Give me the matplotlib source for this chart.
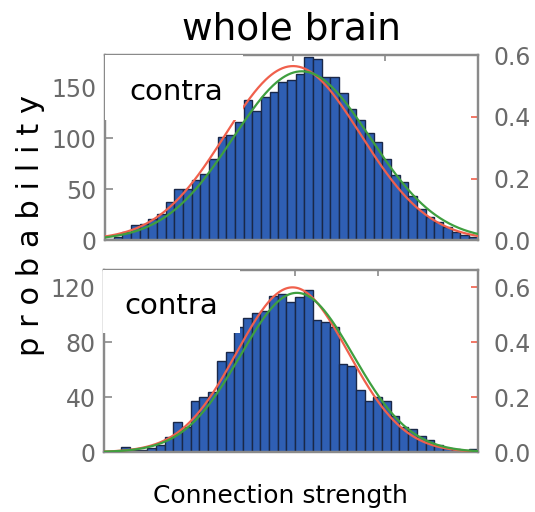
import numpy as np
import matplotlib
matplotlib.use("Agg")
import matplotlib.pyplot as plt

# Histogram counts per bin (43 equal-width bins of connection strength)
top_counts = [1, 3, 8, 15, 16, 21, 26, 37, 50, 50, 59, 65, 80, 101, 103, 116,
              138, 127, 140, 145, 155, 157, 163, 180, 178, 160, 160, 144, 129,
              118, 105, 96, 80, 64, 57, 43, 31, 23, 18, 13, 8, 5, 3]
bottom_counts = [0, 0, 4, 1.5, 1.5, 3, 5, 11, 22, 18, 37, 40, 44, 66, 73, 91,
                 98, 101, 103, 114, 115, 109, 113, 118, 96, 95, 91, 64, 63,
                 45, 37, 40, 37, 26, 18, 17, 12, 9, 5, 3, 2, 1, 2.5]

# Gaussian fit parameters (mean, sigma in bin units; peak on probability axis)
top_red_fit = (21.7, 7.8, 0.565)
top_green_fit = (22.7, 7.9, 0.548)
bottom_red_fit = (21.7, 6.4, 0.600)
bottom_green_fit = (22.2, 6.5, 0.580)

# Axis ticks
top_count_ticks = [0, 50, 100, 150]
bottom_count_ticks = [0, 40, 80, 120]
prob_ticks = [0.0, 0.2, 0.4, 0.6]
prob_labels = ["0.0", "0.2", "0.4", "0.6"]
top_xticks = [10.6, 21.7, 32.3]
bottom_xticks = [4.8, 13.0, 22.0, 31.5]

BAR_FACE = "#2f5fb4"
BAR_EDGE = "#1a2848"
SPINE = "#8a8a8a"
LABEL = "#6a6a6a"
RED = "#f0604c"
GREEN = "#3f9f3f"

fig = plt.figure(figsize=(5.35, 5.12), dpi=100)


def gauss(x, fit):
    mu, sd, peak = fit
    return peak * np.exp(-0.5 * ((x - mu) / sd) ** 2)


def panel(rect, counts, ymax, pmax, cticks, xticks, red_fit, green_fit):
    ax = fig.add_axes(rect)
    n = len(counts)
    centers = np.arange(n) + 0.5
    ax.bar(centers, counts, width=1.0, color=BAR_FACE, edgecolor=BAR_EDGE,
           linewidth=1.0, zorder=2)
    ax.set_xlim(0, n)
    ax.set_ylim(0, ymax)
    ax.set_yticks(cticks)
    ax.set_yticklabels([str(t) for t in cticks], fontsize=17, color=LABEL)
    ax.tick_params(axis="y", direction="in", length=6, width=1.2,
                   color=SPINE, pad=6)
    ax.set_xticks(xticks)
    ax.tick_params(axis="x", direction="in", length=4, width=1.2,
                   color=SPINE, top=True, bottom=False, labelbottom=False)
    for s in ax.spines.values():
        s.set_color(SPINE)
        s.set_linewidth(1.6)

    ax2 = ax.twinx()
    x = np.linspace(0, n, 400)
    ax2.plot(x, gauss(x, red_fit), color=RED, lw=1.6, zorder=3)
    ax2.plot(x, gauss(x, green_fit), color=GREEN, lw=1.6, zorder=3)
    ax2.set_ylim(0, pmax)
    ax2.set_yticks(prob_ticks)
    ax2.set_yticklabels(prob_labels, fontsize=17, color=LABEL)
    ax2.tick_params(axis="y", direction="in", length=5, width=1.2,
                    color=RED, pad=11)
    for s in ax2.spines.values():
        s.set_color(SPINE)
        s.set_linewidth(1.6)
    return ax, ax2


ax_top, ax_top2 = panel([0.196, 0.531, 0.697, 0.361], top_counts, 181.4, 0.597,
                        top_count_ticks, top_xticks, top_red_fit, top_green_fit)
ax_bot, ax_bot2 = panel([0.194, 0.117, 0.699, 0.355], bottom_counts, 132.4, 0.662,
                        bottom_count_ticks, bottom_xticks, bottom_red_fit,
                        bottom_green_fit)

# White label boxes in the upper-left corner of each panel
for (bx, by, bw, bh), (tx, ty) in [((105, 55, 138, 65), (176, 92)),
                                   ((103, 270, 137, 63), (171, 306))]:
    fig.patches.append(plt.Rectangle((bx / 535, 1 - (by + bh) / 512),
                                     bw / 535, bh / 512, transform=fig.transFigure,
                                     facecolor="white", edgecolor="none",
                                     zorder=10))
    fig.text(tx / 535, 1 - ty / 512, "contra", fontsize=21, ha="center",
             va="center", color="black", zorder=11)

fig.text(291 / 535, 1 - 29 / 512, "whole brain", fontsize=27, ha="center",
         va="center", color="black")
fig.text(31 / 535, 1 - 225 / 512, "p r o b a b i l i t y", fontsize=22,
         rotation=90, ha="center", va="center", color="black")
fig.text(280 / 535, 1 - 503 / 512, "Connection strength", fontsize=18,
         ha="center", va="baseline", color="black")

fig.savefig("out.png", dpi=100)
